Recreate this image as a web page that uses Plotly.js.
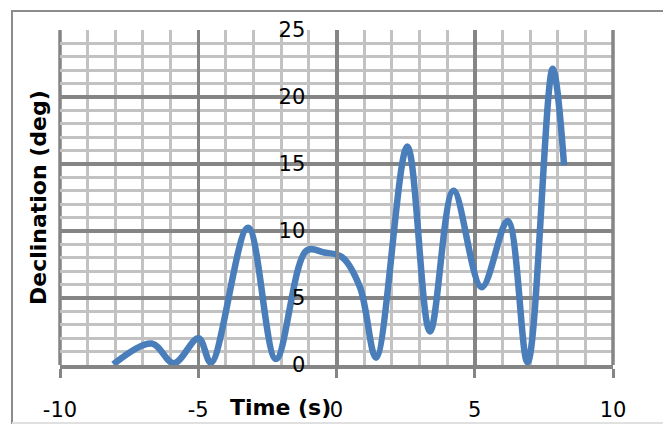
<!DOCTYPE html>
<html>
<head>
<meta charset="utf-8">
<script src="https://cdn.plot.ly/plotly-3.0.1.min.js"></script>
<style>
html, body { margin: 0; padding: 0; background: #fff; }
#chart { width: 663px; height: 426px; }
</style>
</head>
<body>
<div id="chart"></div>
<script>
// Data
var timeS = [-8.07, -6.68, -5.88, -4.99, -4.54, -3.2, -2.19, -1.08, -0.45, 0.2, 0.85, 1.43, 2.56, 3.38, 4.23, 5.25, 6.19, 6.91, 7.82, 8.23];
var declinationDeg = [0.05, 1.6, 0.13, 2.0, 0.17, 10.25, 0.45, 8.55, 8.4, 8.05, 5.8, 0.55, 16.3, 2.5, 13.0, 5.8, 10.75, 0.2, 22.1, 14.9];
var xTickVals = [-10, -5, 0, 5, 10];
var xTickText = ["-10", "-5", "0", "5", "10"];
var yTickVals = [0, 5, 10, 15, 20, 25];
var yTickText = ["0", "5", "10", "15", "20", "25"];
var xTitle = "Time (s)";
var yTitle = "Declination (deg)";

var W = 663, H = 426;
var L = 60, R = 50, T = 30, B = 61;
var pw = W - L - R, ph = H - T - B;
function px(x) { return (x - L) / pw; }
function py(y) { return (H - B - y) / ph; }

var majorGrid = '#858585', minorGrid = '#c2c2c2';

var trace = {
  x: timeS,
  y: declinationDeg,
  type: 'scatter',
  mode: 'lines',
  line: { color: '#4A7EBB', width: 6.5, shape: 'spline', smoothing: 1 },
  cliponaxis: false,
  hoverinfo: 'skip'
};

var layout = {
  width: W, height: H,
  margin: { l: L, r: R, t: T, b: B, pad: 0 },
  paper_bgcolor: '#ffffff',
  plot_bgcolor: '#ffffff',
  showlegend: false,
  font: { family: 'DejaVu Sans', size: 21, color: '#000' },
  xaxis: {
    range: [-10, 10],
    tickmode: 'array', tickvals: xTickVals, ticktext: xTickText,
    showgrid: true, gridcolor: majorGrid, gridwidth: 3.5,
    zeroline: false,
    showline: true, linecolor: majorGrid, linewidth: 3.5,
    ticks: 'outside', ticklen: 9, tickwidth: 3, tickcolor: majorGrid,
    ticklabelstandoff: 14,
    minor: { dtick: 1, tick0: 0, showgrid: true, gridcolor: minorGrid, gridwidth: 3, ticklen: 0 },
    tickfont: { family: 'DejaVu Sans', size: 21, color: '#000' },
    fixedrange: true
  },
  yaxis: {
    range: [0, 25],
    anchor: 'free', position: 0.5, side: 'left',
    tickmode: 'array', tickvals: yTickVals, ticktext: yTickText,
    showgrid: true, gridcolor: majorGrid, gridwidth: 3.5,
    zeroline: false,
    showline: true, linecolor: majorGrid, linewidth: 3.5,
    ticks: '', ticklabelstandoff: 26,
    minor: { dtick: 1, tick0: 0, showgrid: true, gridcolor: minorGrid, gridwidth: 3, ticklen: 0 },
    tickfont: { family: 'DejaVu Sans', size: 21, color: '#000' },
    fixedrange: true
  },
  shapes: [
    { type: 'rect', xref: 'paper', yref: 'paper', layer: 'below',
      x0: px(12), x1: px(680), y0: py(423), y1: py(11),
      line: { color: '#8c8c8c', width: 2 }, fillcolor: 'rgba(0,0,0,0)' },
    { type: 'line', xref: 'paper', yref: 'paper', layer: 'below',
      x0: px(12), x1: px(680), y0: py(423), y1: py(423),
      line: { color: '#e0e0e0', width: 2 } },
    { type: 'line', xref: 'paper', yref: 'paper', layer: 'above',
      x0: 1, x1: 1, y0: 0, y1: 1, line: { color: majorGrid, width: 3.5 } },
    { type: 'line', xref: 'paper', yref: 'paper', layer: 'below',
      x0: 0, x1: 0, y0: 0, y1: 1, line: { color: majorGrid, width: 3.5 } }
  ],
  annotations: [
    { text: '<b>' + xTitle + '</b>', xref: 'paper', yref: 'paper',
      x: px(280), y: py(407), showarrow: false, xanchor: 'center', yanchor: 'middle',
      font: { family: 'DejaVu Sans', size: 22, color: '#000' } },
    { text: '<b>' + yTitle + '</b>', xref: 'paper', yref: 'paper',
      x: px(38), y: py(198), showarrow: false, xanchor: 'center', yanchor: 'middle',
      textangle: -90,
      font: { family: 'DejaVu Sans', size: 22, color: '#000' } }
  ]
};

Plotly.newPlot('chart', [trace], layout, { staticPlot: true, displayModeBar: false });
</script>
</body>
</html>
